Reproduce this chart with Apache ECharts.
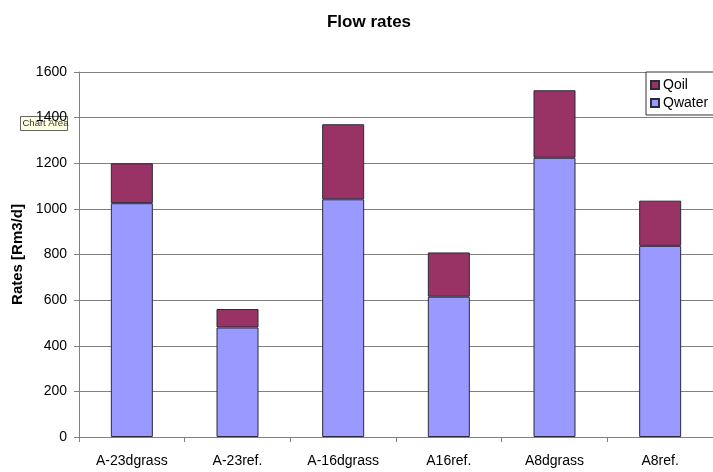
<!DOCTYPE html>
<html>
<head>
<meta charset="utf-8">
<script src="https://cdn.jsdelivr.net/npm/echarts@6/dist/echarts.min.js"></script>
<style>
  html, body { margin: 0; padding: 0; background: #fff; }
  #chart { width: 713px; height: 472px; }
</style>
</head>
<body>
<div id="chart"></div>
<script>
// Well flow rates, stacked by phase
const categories = ['A-23dgrass', 'A-23ref.', 'A-16dgrass', 'A16ref.', 'A8dgrass', 'A8ref.'];
const qwater = [1025, 480, 1042, 615, 1224, 838];
const qoil = [175, 81, 329, 194, 296, 198];
const yTicks = [0, 200, 400, 600, 800, 1000, 1200, 1400, 1600];

const FONT = '"Liberation Sans", Arial, sans-serif';

const chart = echarts.init(document.getElementById('chart'), null, { renderer: 'canvas' });

chart.setOption({
  animation: false,
  backgroundColor: '#ffffff',
  title: {
    text: 'Flow rates',
    left: 364,
    top: 9,
    textAlign: 'center',
    textStyle: { fontFamily: FONT, fontSize: 17, fontWeight: 'bold', color: '#000' }
  },
  legend: {
    data: ['Qoil', 'Qwater'],
    orient: 'vertical',
    left: 646,
    top: 72,
    padding: [5, 8, 4, 4],
    itemGap: 2,
    itemWidth: 8,
    itemHeight: 8,
    icon: 'rect',
    backgroundColor: '#ffffff',
    borderColor: '#333333',
    borderWidth: 1,
    borderRadius: 0,
    textStyle: { fontFamily: FONT, fontSize: 14, color: '#000', padding: [0, 0, 0, -1], lineHeight: 16 }
  },
  grid: { left: 79, right: -4, top: 72, bottom: 35, containLabel: false },
  xAxis: {
    type: 'category',
    data: categories,
    axisLine: { lineStyle: { color: '#808080', width: 1 } },
    axisTick: { show: true, length: 5, alignWithLabel: false, lineStyle: { color: '#808080' } },
    axisLabel: { fontFamily: FONT, fontSize: 14, color: '#000', margin: 17, interval: 0 },
    splitLine: { show: false }
  },
  yAxis: {
    type: 'value',
    min: yTicks[0],
    max: yTicks[yTicks.length - 1],
    interval: yTicks[1] - yTicks[0],
    name: 'Rates [Rm3/d]',
    nameLocation: 'middle',
    nameGap: 51,
    nameTextStyle: { fontFamily: FONT, fontSize: 15, fontWeight: 'bold', color: '#000' },
    axisLine: { show: true, lineStyle: { color: '#808080', width: 1 } },
    axisTick: { show: true, length: 5, lineStyle: { color: '#808080' } },
    axisLabel: {
      fontFamily: FONT, fontSize: 14, color: '#000', margin: 12,
      formatter: function (v) { return String(v); }
    },
    splitLine: { show: true, lineStyle: { color: '#808080', width: 1 } }
  },
  series: [
    {
      name: 'Qwater',
      type: 'bar',
      stack: 'rate',
      data: qwater,
      barWidth: 42,
      itemStyle: { color: '#9999FF', borderColor: '#2a2a3a', borderWidth: 1 }
    },
    {
      name: 'Qoil',
      type: 'bar',
      stack: 'rate',
      data: qoil,
      barWidth: 42,
      itemStyle: { color: '#993366', borderColor: '#2a2a3a', borderWidth: 1 }
    }
  ],
  graphic: [
    {
      type: 'group',
      left: 20,
      top: 116,
      z: 100,
      children: [
        {
          type: 'rect',
          shape: { x: 0, y: 0, width: 47, height: 14 },
          style: { fill: '#FFFFE1', stroke: '#666666', lineWidth: 1 }
        },
        {
          type: 'text',
          x: 2,
          y: 2,
          style: { text: 'Chart Area', fontFamily: FONT, fontSize: 9.5, fill: '#333333' }
        }
      ]
    }
  ]
});
</script>
</body>
</html>
